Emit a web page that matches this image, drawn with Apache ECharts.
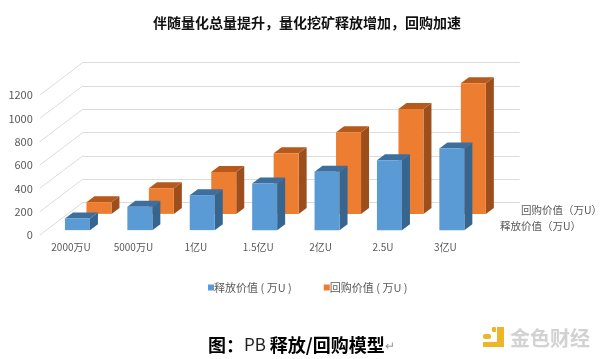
<!DOCTYPE html>
<html><head><meta charset="utf-8">
<style>html,body{margin:0;padding:0;background:#fff}#c{width:600px;height:359px}</style>
<script src="https://cdn.jsdelivr.net/npm/echarts@6/dist/echarts.min.js"></script>
</head><body><div id="c"></div>
<script>
const categories = ['2000万U','5000万U','1亿U','1.5亿U','2亿U','2.5U','3亿U'];
const releaseName = '释放价值 ( 万U )';
const buybackName = '回购价值 ( 万U )';
const releaseValues = [100,200,300,400,500,600,700];
const buybackValues = [100,220,360,520,700,900,1120];
const yMax = 1200, yStep = 200;

const FONT = '"Noto Sans CJK SC","Noto Sans",sans-serif';
const DX = 43, DY = -32.5;
function bars(depth, cFront, cTop, cSide){
  return function(params, api){
    const i = api.value(0), v = api.value(1);
    const b = api.coord([i,0]), t = api.coord([i,v]);
    const w = 25, dx = 8, dy = -6;
    const x0 = b[0] + DX*depth - w/2, x1 = x0 + w;
    const yb = b[1] + DY*depth, yt = t[1] + DY*depth;
    return {type:'group', children:[
      {type:'polygon', shape:{points:[[x1,yb],[x1+dx,yb+dy],[x1+dx,yt+dy],[x1,yt]]}, style:{fill:cSide}},
      {type:'polygon', shape:{points:[[x0,yt],[x0+dx,yt+dy],[x1+dx,yt+dy],[x1,yt]]}, style:{fill:cTop}},
      {type:'rect', shape:{x:x0,y:yt,width:w,height:yb-yt}, style:{fill:cFront}}
    ]};
  };
}
const ticks = [];
for(let v=0;v<=yMax;v+=yStep) ticks.push(v);

const chart = echarts.init(document.getElementById('c'),null,{renderer:'canvas'});
chart.setOption({
  animation:false,
  backgroundColor:'#fff',
  textStyle:{fontFamily:FONT},
  legend:{
    left:203, top:277, itemWidth:6, itemHeight:6, itemGap:32,
    icon:'rect',
    textStyle:{fontSize:11,color:'#595959',fontFamily:FONT,padding:[0,0,0,-5]},
    data:[releaseName,buybackName]
  },
  grid:[
    {left:39.8, width:436.8, top:95, height:140},
    {left:82.8, width:436.8, top:62.5, height:140}
  ],
  xAxis:[
    {type:'category',gridIndex:0,data:categories,axisLine:{show:false},axisTick:{show:false},
     axisLabel:{color:'#595959',fontSize:10,fontFamily:FONT,margin:7,interval:0}},
    {type:'category',gridIndex:1,data:categories,axisLine:{show:false},axisTick:{show:false},axisLabel:{show:false}}
  ],
  yAxis:[
    {type:'value',gridIndex:0,min:0,max:yMax,interval:yStep,axisLine:{show:false},axisTick:{show:false},splitLine:{show:false},
     axisLabel:{color:'#595959',fontSize:11,fontFamily:FONT,margin:7,padding:[2,0,0,0],formatter:v=>String(v)}},
    {type:'value',gridIndex:1,min:0,max:yMax,interval:yStep,axisLine:{show:false},axisTick:{show:false},axisLabel:{show:false},
     splitLine:{show:true,lineStyle:{color:'#dcdcdc',width:1}}}
  ],
  series:[
    {type:'custom',name:'walls',silent:true,xAxisIndex:0,yAxisIndex:0,z:1,
     data:ticks.map(v=>[0,v]),
     encode:{x:0,y:1},
     renderItem(params,api){
       const v = api.value(1);
       const p = api.coord([0,v]);
       const halfBand = api.size([1,0])[0]/2;
       const x = p[0]-halfBand, y = p[1];
       return {type:'line',shape:{x1:x,y1:y,x2:x+DX,y2:y+DY},style:{stroke:'#dcdcdc',lineWidth:1}};
     }},
    {type:'custom',name:buybackName,xAxisIndex:0,yAxisIndex:0,z:2,itemStyle:{color:'#ED7D31'},
     data:buybackValues.map((v,i)=>[i,v]),encode:{x:0,y:1},
     renderItem:bars(0.65,'#ED7D31','#B5591C','#9C4F1C')},
    {type:'custom',name:releaseName,xAxisIndex:0,yAxisIndex:0,z:3,itemStyle:{color:'#5B9BD5'},
     data:releaseValues.map((v,i)=>[i,v]),encode:{x:0,y:1},
     renderItem:bars(0.15,'#5B9BD5','#3C6E9E','#36658F')}
  ],
  graphic:[
    {type:'text',left:153,top:16,style:{text:'伴随量化总量提升，量化挖矿释放增加，回购加速',font:'bold 14px '+FONT,fill:'#111'}},
    {type:'text',left:521,top:205,style:{text:'回购价值（万U）',font:'10.5px '+FONT,fill:'#595959'}},
    {type:'text',left:500,top:221,style:{text:'释放价值（万U）',font:'10.5px '+FONT,fill:'#595959'}},
    {type:'text',left:208,top:336,style:{
      text:'{b|图：}{p|PB }{b|释放/回购模型}{a|↵}',
      rich:{
        b:{font:'bold 18px '+FONT,fill:'#000'},
        p:{font:'17px '+FONT,fill:'#222'},
        a:{font:'12px '+FONT,fill:'#999'}
      }}},
    {type:'rect',left:483,top:334,shape:{width:8,height:5,r:2},style:{fill:'#F0B429'}},
    {type:'rect',left:492,top:327,shape:{width:4,height:5,r:1},style:{fill:'#F0B429'}},
    {type:'polygon',shape:{points:[[497,327],[504,327],[504,347],[483,347],[483,342],[497,342]]},style:{fill:'#F0B429'}},
    {type:'text',left:510,top:328,style:{text:'金色财经',font:'bold 20px '+FONT,fill:'#d2d2d2'}}
  ]
});
</script></body></html>
